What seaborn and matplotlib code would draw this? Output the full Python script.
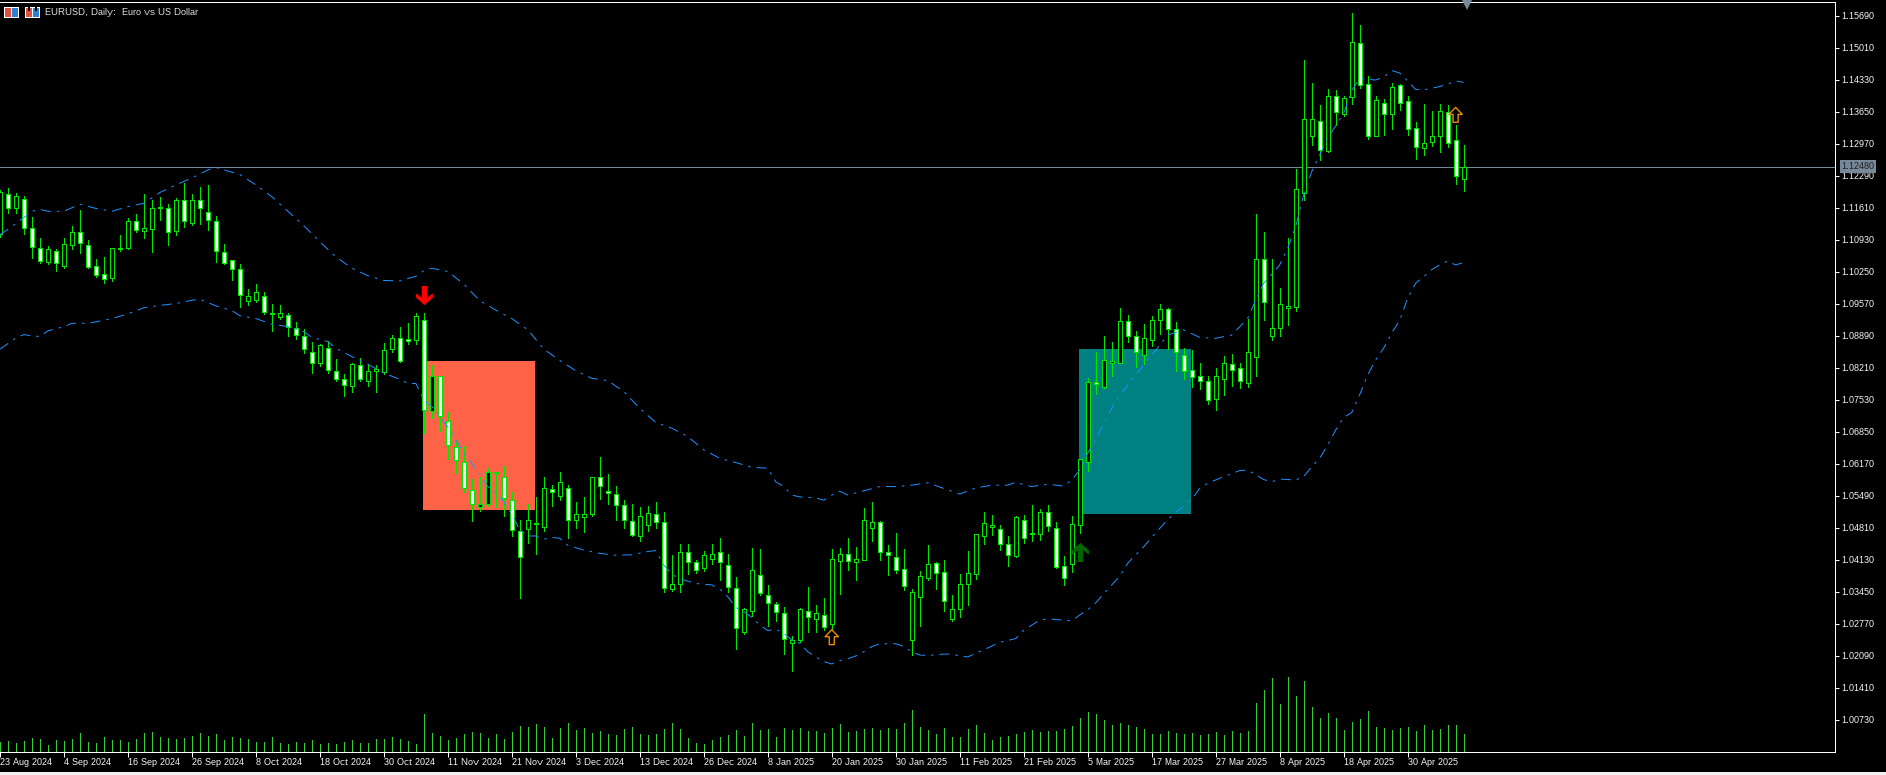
import numpy as np
import seaborn as sns
import matplotlib.pyplot as plt
from matplotlib.patches import Rectangle
from matplotlib.path import Path
from matplotlib.transforms import IdentityTransform

open_ = [
    1.1104, 1.1189, 1.1159, 1.1180, 1.1117, 1.1074, 1.1046, 1.1068, 1.1037, 1.1082,
    1.1108, 1.1081, 1.1036, 1.1019, 1.1012, 1.1073, 1.1075, 1.1132, 1.1112, 1.1115,
    1.1161, 1.1159, 1.1112, 1.1178, 1.1129, 1.1176, 1.1151, 1.1132, 1.1066, 1.1049,
    1.1030, 1.0963, 1.0965, 1.0974, 1.0935, 1.0929, 1.0932, 1.0904, 1.0889, 1.0855,
    1.0830, 1.0862, 1.0813, 1.0796, 1.0781, 1.0826, 1.0792, 1.0813, 1.0811, 1.0860,
    1.0883, 1.0881, 1.0879, 1.0923, 1.0729, 1.0804, 1.0708, 1.0653, 1.0620, 1.0561,
    1.0524, 1.0530, 1.0596, 1.0589, 1.0540, 1.0473, 1.0477, 1.0489, 1.0483, 1.0562,
    1.0547, 1.0564, 1.0498, 1.0504, 1.0510, 1.0588, 1.0558, 1.0552, 1.0528, 1.0494,
    1.0464, 1.0487, 1.0509, 1.0492, 1.0351, 1.0362, 1.0430, 1.0407, 1.0396, 1.0415,
    1.0428, 1.0401, 1.0352, 1.0258, 1.0303, 1.0381, 1.0337, 1.0318, 1.0299, 1.0235,
    1.0241, 1.0303, 1.0286, 1.0296, 1.0277, 1.0409, 1.0424, 1.0408, 1.0413, 1.0479,
    1.0492, 1.0428, 1.0418, 1.0392, 1.0241, 1.0334, 1.0374, 1.0405, 1.0386, 1.0287,
    1.0308, 1.0362, 1.0383, 1.0464, 1.0483, 1.0477, 1.0447, 1.0420, 1.0496, 1.0468,
    1.0468, 1.0515, 1.0481, 1.0399, 1.0404, 1.0487, 1.0620, 1.0790, 1.0780, 1.0830,
    1.0830, 1.0919, 1.0889, 1.0847, 1.0879, 1.0921, 1.0945, 1.0902, 1.0847, 1.0815,
    1.0802, 1.0792, 1.0755, 1.0797, 1.0828, 1.0819, 1.0789, 1.0844, 1.1051, 1.0889,
    1.0904, 1.0947, 1.0949, 1.1191, 1.1314, 1.1344, 1.1282, 1.1399, 1.1360, 1.1395,
    1.1510, 1.1423, 1.1314, 1.1384, 1.1360, 1.1421, 1.1387, 1.1329, 1.1287, 1.1301,
    1.1314, 1.1365, 1.1304, 1.1222,
]
close = [
    1.1193, 1.1161, 1.1185, 1.1118, 1.1078, 1.1048, 1.1072, 1.1044, 1.1083, 1.1110,
    1.1086, 1.1034, 1.1018, 1.1010, 1.1074, 1.1075, 1.1132, 1.1114, 1.1118, 1.1161,
    1.1163, 1.1110, 1.1178, 1.1133, 1.1176, 1.1159, 1.1135, 1.1068, 1.1044, 1.1030,
    1.0976, 1.0972, 1.0981, 1.0940, 1.0936, 1.0936, 1.0908, 1.0891, 1.0861, 1.0830,
    1.0868, 1.0815, 1.0797, 1.0783, 1.0828, 1.0796, 1.0813, 1.0817, 1.0858, 1.0883,
    1.0834, 1.0877, 1.0930, 1.0730, 1.0802, 1.0717, 1.0656, 1.0624, 1.0564, 1.0530,
    1.0532, 1.0598, 1.0599, 1.0543, 1.0475, 1.0418, 1.0496, 1.0490, 1.0566, 1.0556,
    1.0577, 1.0498, 1.0509, 1.0510, 1.0588, 1.0569, 1.0554, 1.0528, 1.0496, 1.0466,
    1.0505, 1.0511, 1.0492, 1.0352, 1.0362, 1.0428, 1.0407, 1.0390, 1.0422, 1.0424,
    1.0407, 1.0354, 1.0267, 1.0307, 1.0390, 1.0341, 1.0320, 1.0301, 1.0245, 1.0243,
    1.0307, 1.0290, 1.0300, 1.0270, 1.0415, 1.0424, 1.0409, 1.0415, 1.0496, 1.0492,
    1.0430, 1.0422, 1.0391, 1.0357, 1.0343, 1.0379, 1.0403, 1.0384, 1.0325, 1.0307,
    1.0362, 1.0384, 1.0467, 1.0490, 1.0486, 1.0445, 1.0423, 1.0503, 1.0459, 1.0469,
    1.0515, 1.0485, 1.0398, 1.0374, 1.0488, 1.0626, 1.0790, 1.0785, 1.0836, 1.0834,
    1.0919, 1.0887, 1.0853, 1.0883, 1.0923, 1.0945, 1.0902, 1.0853, 1.0813, 1.0800,
    1.0792, 1.0753, 1.0802, 1.0830, 1.0815, 1.0792, 1.0853, 1.1051, 1.0961, 1.0904,
    1.0957, 1.0952, 1.1200, 1.1350, 1.1350, 1.1283, 1.1399, 1.1363, 1.1393, 1.1512,
    1.1421, 1.1314, 1.1389, 1.1359, 1.1418, 1.1384, 1.1327, 1.1289, 1.1299, 1.1314,
    1.1367, 1.1299, 1.1229, 1.1248,
]
high = [
    1.1198, 1.1202, 1.1191, 1.1185, 1.1140, 1.1096, 1.1079, 1.1072, 1.1096, 1.1122,
    1.1156, 1.1092, 1.1051, 1.1055, 1.1074, 1.1102, 1.1139, 1.1147, 1.1189, 1.1178,
    1.1183, 1.1168, 1.1181, 1.1214, 1.1189, 1.1205, 1.1208, 1.1144, 1.1083, 1.1049,
    1.1040, 1.0988, 1.0998, 1.0981, 1.0956, 1.0954, 1.0936, 1.0918, 1.0902, 1.0875,
    1.0871, 1.0877, 1.0839, 1.0807, 1.0831, 1.0841, 1.0828, 1.0826, 1.0873, 1.0890,
    1.0907, 1.0916, 1.0936, 1.0936, 1.0826, 1.0804, 1.0727, 1.0667, 1.0654, 1.0584,
    1.0589, 1.0607, 1.0599, 1.0612, 1.0556, 1.0498, 1.0532, 1.0546, 1.0588, 1.0571,
    1.0599, 1.0571, 1.0535, 1.0546, 1.0589, 1.0631, 1.0595, 1.0569, 1.0539, 1.0530,
    1.0525, 1.0527, 1.0535, 1.0514, 1.0423, 1.0447, 1.0446, 1.0412, 1.0431, 1.0446,
    1.0458, 1.0425, 1.0376, 1.0309, 1.0437, 1.0435, 1.0359, 1.0323, 1.0312, 1.0250,
    1.0309, 1.0355, 1.0316, 1.0331, 1.0435, 1.0437, 1.0459, 1.0440, 1.0522, 1.0535,
    1.0495, 1.0443, 1.0469, 1.0435, 1.0350, 1.0389, 1.0443, 1.0407, 1.0412, 1.0338,
    1.0382, 1.0431, 1.0467, 1.0515, 1.0507, 1.0486, 1.0463, 1.0505, 1.0507, 1.0529,
    1.0520, 1.0529, 1.0492, 1.0420, 1.0505, 1.0626, 1.0798, 1.0854, 1.0889, 1.0875,
    1.0947, 1.0933, 1.0899, 1.0913, 1.0930, 1.0956, 1.0947, 1.0918, 1.0862, 1.0858,
    1.0830, 1.0802, 1.0821, 1.0845, 1.0849, 1.0830, 1.0925, 1.1147, 1.1108, 1.1051,
    1.0991, 1.1096, 1.1243, 1.1474, 1.1426, 1.1379, 1.1413, 1.1411, 1.1397, 1.1574,
    1.1549, 1.1440, 1.1397, 1.1391, 1.1425, 1.1423, 1.1399, 1.1343, 1.1381, 1.1366,
    1.1381, 1.1379, 1.1336, 1.1294,
]
low = [
    1.1099, 1.1150, 1.1150, 1.1105, 1.1054, 1.1044, 1.1041, 1.1027, 1.1032, 1.1073,
    1.1065, 1.1032, 1.1014, 1.1001, 1.1005, 1.1069, 1.1073, 1.1110, 1.1097, 1.1067,
    1.1134, 1.1081, 1.1103, 1.1120, 1.1124, 1.1125, 1.1113, 1.1046, 1.1041, 1.1007,
    1.0950, 1.0954, 1.0961, 1.0935, 1.0899, 1.0924, 1.0889, 1.0882, 1.0852, 1.0810,
    1.0824, 1.0810, 1.0793, 1.0761, 1.0770, 1.0793, 1.0782, 1.0768, 1.0807, 1.0855,
    1.0832, 1.0870, 1.0872, 1.0681, 1.0713, 1.0686, 1.0627, 1.0596, 1.0556, 1.0495,
    1.0517, 1.0527, 1.0524, 1.0506, 1.0462, 1.0332, 1.0449, 1.0425, 1.0474, 1.0527,
    1.0539, 1.0459, 1.0481, 1.0472, 1.0506, 1.0542, 1.0531, 1.0497, 1.0481, 1.0463,
    1.0453, 1.0474, 1.0479, 1.0343, 1.0347, 1.0343, 1.0383, 1.0384, 1.0389, 1.0404,
    1.0369, 1.0343, 1.0223, 1.0255, 1.0293, 1.0338, 1.0272, 1.0282, 1.0212, 1.0177,
    1.0238, 1.0258, 1.0260, 1.0263, 1.0265, 1.0340, 1.0391, 1.0369, 1.0411, 1.0453,
    1.0412, 1.0380, 1.0385, 1.0348, 1.0210, 1.0272, 1.0369, 1.0350, 1.0304, 1.0282,
    1.0291, 1.0316, 1.0372, 1.0446, 1.0465, 1.0433, 1.0399, 1.0418, 1.0448, 1.0452,
    1.0454, 1.0474, 1.0395, 1.0359, 1.0386, 1.0469, 1.0602, 1.0765, 1.0778, 1.0803,
    1.0830, 1.0875, 1.0823, 1.0828, 1.0867, 1.0892, 1.0860, 1.0814, 1.0797, 1.0780,
    1.0776, 1.0744, 1.0731, 1.0763, 1.0782, 1.0778, 1.0780, 1.0804, 1.0922, 1.0879,
    1.0889, 1.0911, 1.0941, 1.1177, 1.1293, 1.1262, 1.1280, 1.1336, 1.1356, 1.1381,
    1.1416, 1.1307, 1.1314, 1.1315, 1.1328, 1.1368, 1.1315, 1.1265, 1.1273, 1.1292,
    1.1279, 1.1290, 1.1211, 1.1196,
]
volume = [
    10, 11, 9, 11, 14, 13, 7, 12, 11, 13, 19, 10, 9, 15, 12, 12, 10, 13, 19, 20,
    15, 14, 13, 14, 16, 19, 16, 18, 12, 15, 14, 13, 10, 10, 15, 9, 8, 10, 9, 12,
    8, 9, 8, 10, 12, 9, 9, 13, 13, 15, 13, 11, 8, 38, 19, 16, 12, 14, 18, 20,
    19, 14, 18, 13, 20, 26, 25, 28, 25, 14, 24, 29, 22, 24, 19, 21, 18, 17, 23, 25,
    18, 17, 18, 23, 29, 23, 14, 9, 8, 12, 15, 17, 22, 16, 29, 22, 23, 15, 24, 22,
    24, 21, 21, 19, 24, 28, 20, 21, 23, 24, 22, 24, 23, 29, 42, 25, 22, 18, 24, 15,
    15, 23, 27, 19, 12, 15, 16, 18, 20, 22, 20, 21, 21, 23, 26, 34, 40, 38, 32, 27,
    29, 27, 25, 23, 18, 18, 21, 19, 18, 19, 17, 18, 20, 17, 21, 19, 21, 49, 62, 74,
    48, 75, 56, 71, 45, 34, 39, 34, 22, 30, 33, 41, 25, 24, 22, 24, 25, 21, 27, 22,
    23, 27, 27, 18,
]

upper_idx = [
    0, 2, 3, 4, 5, 6, 8, 10, 12, 14, 16, 18, 20, 22, 24, 26, 27, 28, 30, 32, 34, 36, 38,
    40, 42, 44, 46, 48, 50, 52, 53, 54, 56, 58, 60, 62, 64, 66, 68, 70, 72, 74, 76, 78,
    80, 82, 84, 86, 88, 90, 92, 94, 96, 97, 98, 99, 100, 102, 103, 104, 105, 106, 108,
    110, 112, 114, 116, 118, 120, 122, 124, 126, 127, 129, 131, 133, 134, 135, 136, 137,
    138, 139, 140, 142, 144, 146, 148, 150, 152, 154, 156, 157, 158, 160, 161, 162, 163,
    164, 166, 168, 169, 170, 172, 173, 174, 175, 176, 177, 178, 180, 181, 182, 183,
]
upper_band = [
    1.1103, 1.1127, 1.1140, 1.1153, 1.1157, 1.1153, 1.1153, 1.1168, 1.1159, 1.1153, 1.1163,
    1.1170, 1.1193, 1.1209, 1.1224, 1.1241, 1.1246, 1.1241, 1.1231, 1.1209, 1.1184, 1.1153,
    1.1122, 1.1088, 1.1056, 1.1032, 1.1016, 1.1006, 1.1005, 1.1015, 1.1027, 1.1032, 1.1025,
    1.0998, 1.0963, 1.0943, 1.0925, 1.0901, 1.0860, 1.0836, 1.0814, 1.0798, 1.0793, 1.0770,
    1.0734, 1.0704, 1.0692, 1.0674, 1.0646, 1.0628, 1.0619, 1.0609, 1.0607, 1.0578, 1.0568,
    1.0550, 1.0546, 1.0544, 1.0539, 1.0550, 1.0558, 1.0550, 1.0559, 1.0568, 1.0568, 1.0571,
    1.0576, 1.0564, 1.0552, 1.0565, 1.0571, 1.0571, 1.0577, 1.0568, 1.0573, 1.0569, 1.0582,
    1.0603, 1.0639, 1.0667, 1.0702, 1.0734, 1.0762, 1.0805, 1.0847, 1.0890, 1.0901, 1.0885,
    1.0883, 1.0890, 1.0925, 1.0964, 1.1000, 1.1039, 1.1074, 1.1120, 1.1188, 1.1237, 1.1308,
    1.1361, 1.1409, 1.1435, 1.1432, 1.1438, 1.1452, 1.1447, 1.1430, 1.1412, 1.1411, 1.1418,
    1.1423, 1.1430, 1.1427,
]
lower_idx = [
    0, 1, 2, 3, 4, 5, 6, 8, 9, 11, 12, 14, 16, 18, 20, 22, 24, 25, 27, 29, 30, 32, 34, 36,
    38, 39, 41, 42, 44, 46, 48, 50, 51, 52, 53, 54, 55, 56, 57, 58, 59, 60, 61, 62, 63, 64,
    65, 66, 67, 68, 69, 70, 71, 73, 75, 77, 79, 81, 82, 83, 84, 85, 87, 89, 90, 91, 92, 93,
    94, 95, 96, 97, 98, 99, 100, 101, 102, 103, 104, 105, 106, 107, 108, 109, 110, 112, 113,
    114, 115, 116, 118, 119, 120, 121, 122, 123, 125, 127, 128, 130, 131, 133, 134, 135, 136,
    137, 138, 139, 140, 141, 142, 143, 144, 146, 148, 149, 150, 151, 153, 155, 156, 157, 158,
    159, 160, 162, 163, 164, 165, 166, 167, 168, 169, 170, 171, 172, 173, 174, 175, 176, 177,
    178, 179, 180, 181, 182, 183,
]
lower_band = [
    1.0860, 1.0872, 1.0884, 1.0891, 1.0888, 1.0887, 1.0899, 1.0908, 1.0915, 1.0915, 1.0918,
    1.0925, 1.0935, 1.0948, 1.0953, 1.0957, 1.0964, 1.0966, 1.0952, 1.0942, 1.0931, 1.0925,
    1.0913, 1.0908, 1.0897, 1.0885, 1.0876, 1.0862, 1.0844, 1.0828, 1.0809, 1.0796, 1.0787,
    1.0787, 1.0752, 1.0738, 1.0716, 1.0695, 1.0667, 1.0639, 1.0617, 1.0593, 1.0568, 1.0554,
    1.0536, 1.0508, 1.0476, 1.0463, 1.0463, 1.0456, 1.0460, 1.0458, 1.0443, 1.0433, 1.0426,
    1.0422, 1.0423, 1.0430, 1.0432, 1.0401, 1.0382, 1.0372, 1.0362, 1.0359, 1.0350, 1.0334,
    1.0311, 1.0302, 1.0290, 1.0274, 1.0262, 1.0265, 1.0256, 1.0242, 1.0235, 1.0217, 1.0206,
    1.0196, 1.0191, 1.0198, 1.0202, 1.0208, 1.0217, 1.0228, 1.0234, 1.0234, 1.0228, 1.0217,
    1.0210, 1.0209, 1.0212, 1.0212, 1.0208, 1.0206, 1.0214, 1.0221, 1.0237, 1.0245, 1.0263,
    1.0284, 1.0287, 1.0284, 1.0283, 1.0295, 1.0306, 1.0321, 1.0340, 1.0359, 1.0377, 1.0405,
    1.0423, 1.0440, 1.0460, 1.0498, 1.0527, 1.0541, 1.0564, 1.0575, 1.0589, 1.0602, 1.0603,
    1.0593, 1.0583, 1.0578, 1.0584, 1.0582, 1.0589, 1.0610, 1.0628, 1.0656, 1.0688, 1.0715,
    1.0725, 1.0763, 1.0805, 1.0837, 1.0862, 1.0894, 1.0921, 1.0968, 1.1000, 1.1014, 1.1029,
    1.1039, 1.1047, 1.1039, 1.1044,
]

date_labels = [
    '23 Aug 2024', '4 Sep 2024', '16 Sep 2024', '26 Sep 2024', '8 Oct 2024', '18 Oct 2024',
    '30 Oct 2024', '11 Nov 2024', '21 Nov 2024', '3 Dec 2024', '13 Dec 2024', '26 Dec 2024',
    '8 Jan 2025', '20 Jan 2025', '30 Jan 2025', '11 Feb 2025', '21 Feb 2025', '5 Mar 2025',
    '17 Mar 2025', '27 Mar 2025', '8 Apr 2025', '18 Apr 2025', '30 Apr 2025',
]
price_ticks = [
    1.15690, 1.15010, 1.14330, 1.13650, 1.12970, 1.12290, 1.11610, 1.10930, 1.10250,
    1.09570, 1.08890, 1.08210, 1.07530, 1.06850, 1.06170, 1.05490, 1.04810, 1.04130,
    1.03450, 1.02770, 1.02090, 1.01410, 1.00730,
]
last_price = 1.12480

sns.set_theme(style='dark', rc={
    'figure.facecolor': 'black', 'axes.facecolor': 'black', 'axes.edgecolor': 'white',
    'xtick.color': 'white', 'ytick.color': 'white', 'text.color': 'white',
})
plt.rcParams['font.family'] = ['Liberation Sans', 'DejaVu Sans']
plt.rcParams['text.hinting'] = 'native'
plt.rcParams['text.hinting_factor'] = 1

W, H = 1886, 775
fig = plt.figure(figsize=(W / 100, H / 100), dpi=100)
rect = [0, (H - 751.5) / H, 1834.5 / W, 750 / H]
ax = fig.add_axes(rect)
idx = np.arange(len(open_))
o, c, hi, lo = map(np.array, (open_, close, high, low))
bear = c < o
LIME = '#00e600'
BLUE = '#1e90ff'
PX = 0.72

# zones behind the candles
ax.add_patch(Rectangle((52.94, 1.0519), 14, 1.0835 - 1.0519, color='#ff6347', lw=0, zorder=1))
ax.add_patch(Rectangle((134.94, 1.0510), 14, 1.0860 - 1.0510, color='#008080', lw=0, zorder=1))

ax.axhline(last_price, color='#778899', lw=PX, zorder=1.5)

ax.vlines(idx, lo, hi, color=LIME, lw=PX, zorder=2, antialiased=False)
ax.bar(idx, np.abs(c - o), bottom=np.minimum(o, c), width=0.5,
       color=np.where(bear, 'white', 'black'), edgecolor=LIME, linewidth=PX,
       zorder=3, antialiased=False)

dash_dot = (0, (10, 6, 2.5, 6))
sns.lineplot(x=upper_idx, y=upper_band, ax=ax, color=BLUE, linewidth=PX, linestyle=dash_dot, zorder=4)
sns.lineplot(x=lower_idx, y=lower_band, ax=ax, color=BLUE, linewidth=PX, linestyle=dash_dot, zorder=4)

block_up = Path([(-.14, -.5), (.14, -.5), (.14, .114), (.44, -.114), (.44, .114), (0, .5),
                 (-.44, .114), (-.44, -.114), (-.14, .114), (-.14, -.5)], closed=True)
block_down = Path(np.array(block_up.vertices) * [1, -1], closed=True)
hollow_up = Path([(-.17, -.5), (.17, -.5), (.17, .03), (.45, .03), (0, .5), (-.45, .03),
                  (-.17, .03), (-.17, -.5)], closed=True)
ax.scatter([53], [1.0975], marker=block_down, s=190, color='#ff0000', lw=0, zorder=5)
ax.scatter([135], [1.0429], marker=block_up, s=190, color='#006400', lw=0, zorder=5)
ax.scatter([104, 182], [1.0248, 1.1358], marker=hollow_up, s=115, facecolors='none',
           edgecolors='#e88b00', linewidths=1.0, zorder=5)

ax.plot([183.4], [0.996], 'v', transform=ax.get_xaxis_transform(), ms=7, color='#778899',
        mew=0, clip_on=False, zorder=6)

vol_ax = ax.twinx()
vol_ax.vlines(idx, 0, volume, color='#32cd32', lw=PX, antialiased=False)
vol_ax.set_ylim(0, 750)
vol_ax.axis('off')

ax.set_xlim(0.0625, 229.375)
ax.set_ylim(1.0005, 1.15988)
ax.yaxis.tick_right()
ax.set_yticks(price_ticks)
ax.set_yticklabels([f'{p:.5f}' for p in price_ticks], fontsize=6.5)
ax.set_xticks(range(0, 8 * len(date_labels), 8))
ax.set_xticklabels(date_labels, fontsize=6.5, ha='left')
ax.tick_params(axis='x', length=3.4, width=PX, pad=1, direction='out', bottom=True)
ax.tick_params(axis='y', length=2.9, width=PX, pad=2, direction='out', right=True)
for s in ('top', 'right', 'bottom'):
    ax.spines[s].set_linewidth(PX)
    ax.spines[s].set_color('white')
ax.spines['left'].set_visible(False)
ax.set_xlabel('')
ax.set_ylabel('')
ax.grid(False)

ax.annotate(f'{last_price:.5f}', xy=(1, last_price), xycoords=('axes fraction', 'data'),
            xytext=(5, 0), textcoords='offset points', va='center', ha='left', fontsize=6.5,
            color='#1a1a1a', annotation_clip=False, zorder=10,
            bbox=dict(boxstyle='square,pad=0.2', fc='#778899', ec='none'))

fig.text(45 / W, (H - 12.5) / H, 'EURUSD, Daily:  Euro vs US Dollar', fontsize=6.5,
         color='#e8e8e8', va='center', ha='left')

# header icons and window edge, in screen pixels
px = IdentityTransform()
def box(x, y, w, h, **kw):
    fig.add_artist(Rectangle((x, H - y - h), w, h, transform=px, lw=0, **kw))
box(4, 7, 15, 11, color='white')
box(5, 8, 6, 9, color='#e05040')
box(12, 8, 6, 9, color='#2f7fd0')
box(25, 7, 15, 11, color='white')
box(26, 8, 6, 9, color='#e05040')
box(33, 8, 6, 9, color='#2f7fd0')
box(28, 7, 2, 4, color='black')
box(35, 7, 2, 4, color='black')
box(0, 772, W, 3, color='#f0f0f0')

fig.savefig('out.png', dpi=100, facecolor='black')
